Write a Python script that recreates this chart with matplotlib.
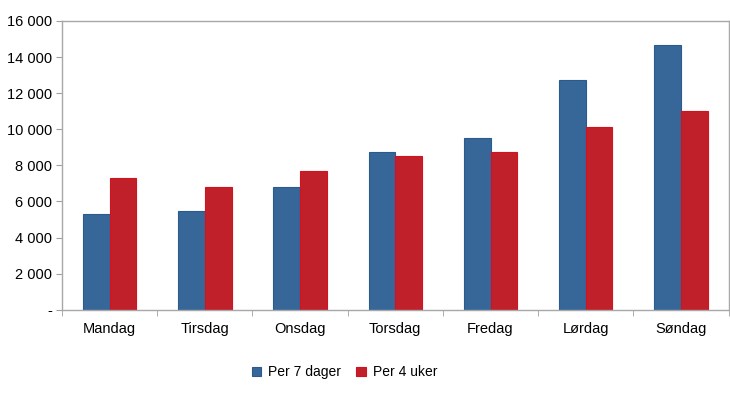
import numpy as np
import matplotlib.pyplot as plt
from matplotlib.ticker import FuncFormatter

plt.rcParams['font.family'] = ['Liberation Sans', 'DejaVu Sans']

days = ['Mandag', 'Tirsdag', 'Onsdag', 'Torsdag', 'Fredag', 'Lørdag', 'Søndag']
per_7_dager = [5290, 5470, 6800, 8720, 9500, 12750, 14660]
per_4_uker = [7280, 6800, 7670, 8540, 8720, 10140, 11030]

fig = plt.figure(figsize=(7.3, 3.96), dpi=100)
ax = fig.add_axes([0.085, 0.218, 0.913, 0.729])

x = np.arange(len(days))
w = 0.28
ax.bar(x - w / 2, per_7_dager, w, color='#376699', edgecolor='#2B5A8C', linewidth=0.8, label='Per 7 dager')
ax.bar(x + w / 2, per_4_uker, w, color='#C0202A', edgecolor='#D3121E', linewidth=0.8, label='Per 4 uker')

ax.set_xlim(-0.5, len(days) - 0.5)
ax.set_ylim(0, 16000)
ax.set_yticks(np.arange(0, 16001, 2000))


def fmt(v, pos):
    if v == 0:
        return '-'
    return f'{int(v):,}'.replace(',', ' ')


ax.yaxis.set_major_formatter(FuncFormatter(fmt))
ax.set_xticks(x)
ax.set_xticklabels(days)
ax.set_xticks(np.arange(-0.5, len(days)), minor=True)
ax.tick_params(axis='x', which='major', length=0, pad=9, labelsize=10.5)
ax.tick_params(axis='x', which='minor', length=4, color='#A0A0A0', direction='out')
ax.tick_params(axis='y', length=4, color='#A0A0A0', labelsize=10.5, pad=3)

for s in ax.spines.values():
    s.set_color('#A8A8A8')
    s.set_linewidth(1)

fig.legend(loc='center', bbox_to_anchor=(0.472, 0.06), ncol=2, frameon=False,
           fontsize=10, handlelength=0.7, handleheight=0.7, columnspacing=1.1, handletextpad=0.5)

fig.savefig('out.png', dpi=100)
